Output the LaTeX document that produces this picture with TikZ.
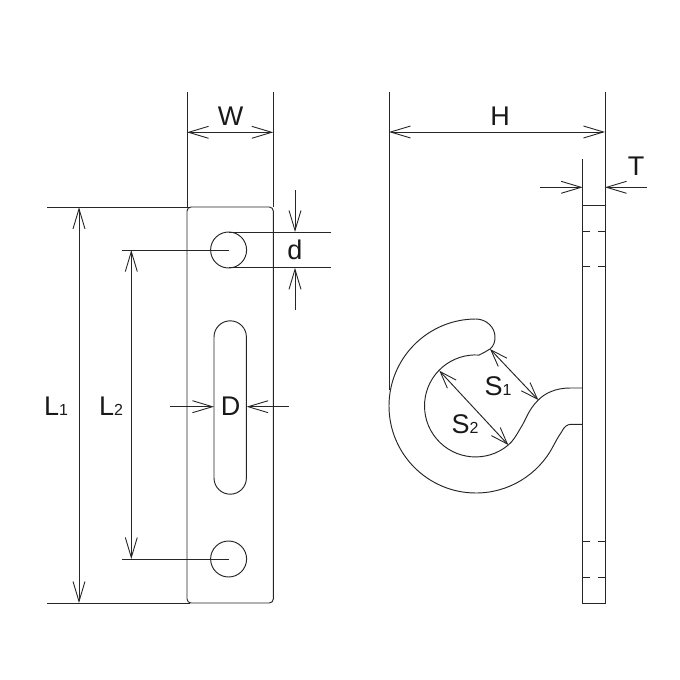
\documentclass[tikz,border=0pt]{standalone}
\usepackage{fontspec}
\setmainfont{Liberation Sans}
\usetikzlibrary{arrows.meta}
\tikzset{
    part/.style={line width=0.95pt, draw=black!85},
    dimline/.style={line width=0.95pt, draw=black!85},
    dimarrow/.style={dimline, -{Straight Barb[length=20pt,width=12pt,line width=0.9pt]}},
    dimboth/.style={dimline, {Straight Barb[length=20pt,width=12pt,line width=0.9pt]}-{Straight Barb[length=20pt,width=12pt,line width=0.9pt]}},
    hookboth/.style={dimline, {Straight Barb[length=17pt,width=12pt,line width=0.9pt]}-{Straight Barb[length=17pt,width=12pt,line width=0.9pt]}},
    dimlabel/.style={inner sep=0pt, text=black!90, font=\fontsize{27}{27}\selectfont},
}
\newcommand{\dimsub}[2]{#1{\fontsize{16}{16}\selectfont #2}}
\begin{document}
\begin{tikzpicture}[x=1pt,y=-1pt]
    \useasboundingbox (0,0) rectangle (680,680);

    % front view: plate
    \draw[part, rounded corners=4pt] (187,207) rectangle (273.3,603);
    \draw[part] (228.6,250) circle[radius=18];
    \draw[part] (228.6,559) circle[radius=18];
    \draw[part] (214,337) arc[start angle=180, end angle=360, radius=16.2]
        -- (246.4,478) arc[start angle=0, end angle=180, radius=16.2] -- cycle;

    % extension lines of the front view
    \draw[dimline] (187,92) -- (187,207);
    \draw[dimline] (273.3,92) -- (273.3,207);
    \draw[dimline] (47,207.3) -- (190,207.3);
    \draw[dimline] (47,603) -- (190,603);
    \draw[dimline] (122,250) -- (228.6,250);
    \draw[dimline] (122,559) -- (228.6,559);
    \draw[dimline] (228.6,232) -- (330.7,232);
    \draw[dimline] (228.6,267.8) -- (330.7,267.8);

    % dimensions of the front view
    \draw[dimboth] (187,132.3) -- (273.3,132.3);
    \draw[dimboth] (79,207.3) -- (79,603);
    \draw[dimboth] (131.3,250) -- (131.3,559);
    \draw[dimarrow] (295,190) -- (295,232);
    \draw[dimarrow] (295,310) -- (295,267.8);
    \draw[dimarrow] (170,406.7) -- (214,406.7);
    \draw[dimarrow] (289,406.7) -- (246.6,406.7);

    % side view: strip
    \draw[part] (582.7,159) -- (582.7,603.3) -- (605,603.3) -- (605,92);
    \draw[part] (582.7,205.5) -- (605,205.5);
    \foreach \y in {231.7,266.7,541.7,577} {
        \draw[part] (582.7,\y) -- (589.5,\y);
        \draw[part] (598.2,\y) -- (605,\y);
    }

    % side view: hook
    \draw[part] (582.7,388) -- (570,388)
        .. controls (556,388) and (545,393) .. (538.3,400)
        .. controls (528,410) and (526,420) .. (520,429)
        .. controls (516,436) and (513,441) .. (508.3,445)
        arc[start angle=50, end angle=274, radius=51]
        .. controls (484,352.5) and (487,351) .. (490,349)
        .. controls (494,346) and (495,341) .. (495,337)
        .. controls (495,327) and (486,319) .. (476,319)
        arc[start angle=270, end angle=27.5, radius=87]
        .. controls (556,441) and (558,437) .. (561.7,431.7)
        .. controls (564,427) and (567,424.3) .. (571,424.3)
        -- (582.7,424.3);

    % dimensions of the side view
    \draw[dimline] (389,92) -- (389,390);
    \draw[dimboth] (389,132) -- (605,132);
    \draw[dimarrow] (540,187.3) -- (582.7,187.3);
    \draw[dimarrow] (646.7,187.3) -- (605,187.3);
    \draw[hookboth] (490,349) -- (538.3,400);
    \draw[hookboth] (439.3,370.7) -- (508.3,445);

    % labels
    \node[dimlabel] (labelW) at (230.5,116) {W};
    \node[dimlabel] (labelH) at (500,116) {H};
    \node[dimlabel] (labelT) at (636,166) {T};
    \node[dimlabel] (labeld) at (295,250) {d};
    \node[dimlabel] (labelD) at (230.5,406.5) {D};
    \node[dimlabel] (labelLa) at (56,406) {\dimsub{L}{1}};
    \node[dimlabel] (labelLb) at (111,406) {\dimsub{L}{2}};
    \node[dimlabel] (labelSa) at (498,386) {\dimsub{S}{1}};
    \node[dimlabel] (labelSb) at (465,424.5) {\dimsub{S}{2}};
\end{tikzpicture}
\end{document}
